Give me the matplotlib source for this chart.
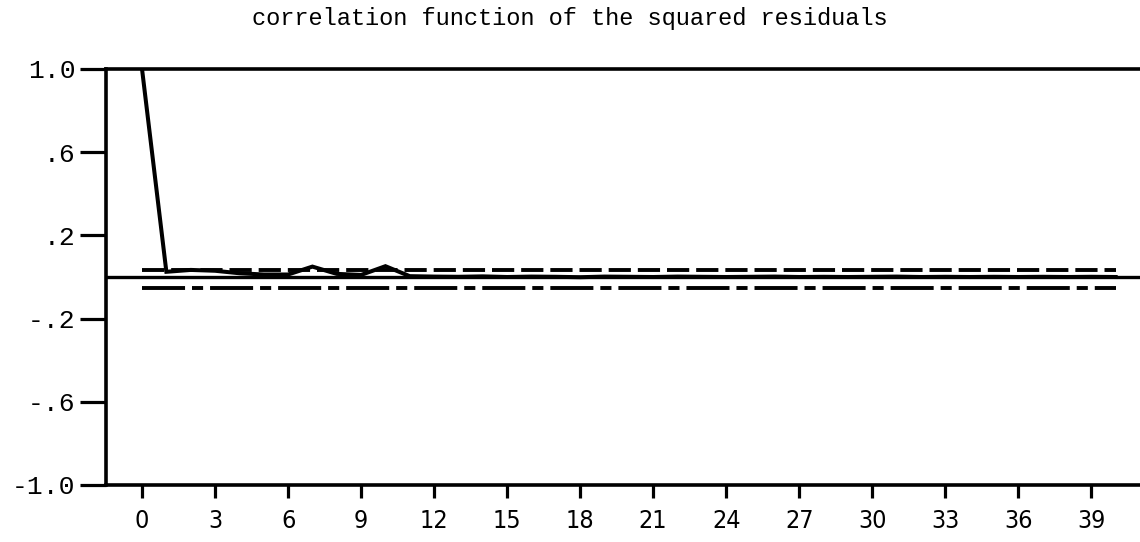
import numpy as np
import matplotlib.pyplot as plt

# autocorrelation of squared residuals
lags = np.arange(0, 41)
acf = [1.0, 0.025, 0.034, 0.030, 0.018, 0.012, 0.012, 0.050, 0.015, 0.010,
       0.052, 0.004, 0.002, 0.001, 0.003, 0.000, 0.002, 0.001, -0.001, 0.002,
       0.001, 0.000, 0.002, 0.001, 0.000, 0.001, 0.002, 0.000, 0.001, 0.000,
       0.001, 0.002, 0.000, 0.001, 0.000, 0.001, 0.000, 0.001, 0.000, 0.001, 0.000]
upper_band = 0.033
lower_band = -0.052

yticks = [1.0, 0.6, 0.2, -0.2, -0.6, -1.0]
ytick_labels = ['1.0', '.6', '.2', '-.2', '-.6', '-1.0']
xticks = np.arange(0, 40, 3)

plt.rcParams['lines.scale_dashes'] = False

fig = plt.figure(figsize=(11.4, 5.42), dpi=100)
ax = fig.add_axes([106/1140, 1 - 485/542, 1 - 106/1140, (485 - 69)/542])

ax.plot(lags, acf, c='k', lw=2.9, solid_joinstyle='miter', zorder=3)
ax.axhline(0, c='k', lw=2.4)
ax.plot([0, 40], [upper_band, upper_band], c='k', lw=2.8, dashes=(16, 5))
ax.plot([0, 40], [lower_band, lower_band], c='k', lw=2.8, dashes=(31, 5, 8, 5))

ax.set_xlim(-1.48, 41.0)
ax.set_ylim(-1.0, 1.0)

for s in ['left', 'top', 'bottom']:
    ax.spines[s].set_linewidth(2.6)
ax.spines['right'].set_visible(False)

ax.set_yticks(yticks)
ax.set_yticklabels(ytick_labels, family='Liberation Mono', fontsize=19)
ax.tick_params(axis='y', direction='out', length=18.5, width=2.3, pad=3.5)

ax.set_xticks(xticks)
ax.set_xticklabels([str(t) for t in xticks], family='DejaVu Sans',
                   fontstretch='condensed', fontsize=18)
ax.tick_params(axis='x', direction='out', length=9, width=2.3, pad=8)

fig.text(0.5, 1 - 18/542, 'correlation function of the squared residuals',
         family='Liberation Mono', fontsize=17, ha='center', va='center')

fig.savefig('out.png', dpi=100)
